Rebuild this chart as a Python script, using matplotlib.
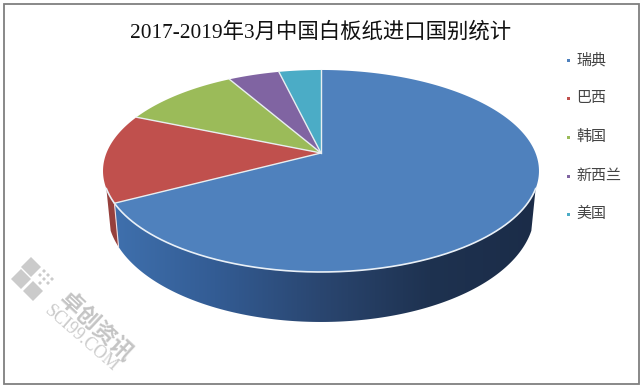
import numpy as np
import matplotlib
matplotlib.use("Agg")
import matplotlib.pyplot as plt
from matplotlib.patches import Polygon, Rectangle
from matplotlib.colors import to_rgb

plt.rcParams["font.family"] = ["Noto Sans CJK SC", "DejaVu Sans"]

title = "2017-2019年3月中国白板纸进口国别统计"
countries = ["瑞典", "巴西", "韩国", "新西兰", "美国"]
shares = [67.2, 14.2, 10.4, 4.5, 3.7]
colors = ["#4f81bd", "#c0504d", "#9bbb59", "#8064a2", "#4bacc6"]

# pie geometry in pixels, perspective squashes the far side
cx, cy = 321, 153
rx, ry = 214.5, 97.8
k = 0.178


def project(theta):
    # theta clockwise from the top of the pie
    u = np.sin(theta)
    v = np.cos(theta)
    w = 1 + k * v
    return cx + rx * u / w, cy - ry * v / w


def project_low(theta):
    # lower rim of the slab, a bit narrower than the top face
    x, y = project(theta)
    return cx + (x - cx) * 0.98, y + 38 - 12 * np.cos(theta)


fig = plt.figure(figsize=(6.43, 3.88), dpi=100)
ax = fig.add_axes([0, 0, 1, 1])

ax.add_patch(Rectangle((3.5, 3.5), 635, 380, fc="white", ec="#7f7f7f", lw=1.3))

edges = np.cumsum([0] + shares) / sum(shares) * 2 * np.pi
side_start = np.radians(110)
side_end = np.radians(250)

# side of the slab: gradient for the big slice, flat dark red for the other
t = np.linspace(side_start, edges[1], 200)
xa, ya = project(t)
xb, yb = project_low(t[::-1])
side = Polygon(np.c_[np.r_[xa, xb], np.r_[ya, yb]], closed=True, fc="none", ec="none")
ax.add_patch(side)

stops_x = [115, 215, 320, 430, 535]
stops_c = np.array([to_rgb(c) for c in ["#3f70ad", "#335c94", "#2a4670", "#1e3250", "#1b2c48"]])
grad_x = np.arange(100, 545)
grad = np.stack([np.interp(grad_x, stops_x, stops_c[:, i]) for i in range(3)], axis=-1)[None, :, :]
im = ax.imshow(grad, extent=[100, 545, 330, 170], aspect="auto", interpolation="bilinear", zorder=1.5)
im.set_clip_path(side)

t = np.linspace(edges[1], side_end, 40)
xa, ya = project(t)
xb, yb = project_low(t[::-1])
ax.fill(np.r_[xa, xb], np.r_[ya, yb], color="#96403c", lw=0, zorder=1.5)

# top face
for i, c in enumerate(colors):
    t = np.linspace(edges[i], edges[i + 1], 200)
    x, y = project(t)
    ax.fill(np.r_[cx, x, cx], np.r_[cy, y, cy], color=c, lw=0, zorder=2)

t = np.linspace(side_start, side_end, 300)
ax.plot(*project(t), color="#e9f0f7", lw=1.2, zorder=3)
x, y = project(edges[1])
ax.plot([x, project_low(edges[1])[0]], [y, project_low(edges[1])[1]], color="#f0dcdc", lw=0.8, zorder=3)
for e in edges[:-1]:
    x, y = project(e)
    ax.plot([cx, x], [cy, y], color="#e8eef0", lw=1.0, zorder=3)

ax.text(321, 32, title, ha="center", va="center", fontsize=15.4, color="#111111",
        family=["Liberation Serif", "Noto Sans CJK SC"])

legend_y = [60, 98, 137, 176, 214]
for name, c, y in zip(countries, colors, legend_y):
    ax.add_patch(Rectangle((566.5, y - 1.5), 3, 3, color=c, lw=0))
    ax.text(576, y, name, ha="left", va="center", fontsize=10.8, color="#444444")

# watermark
wm = "#cbcbcb"
for mx, my in [(31, 267), (21, 279), (33, 291)]:
    ax.fill([mx - 10, mx, mx + 10, mx], [my, my - 10, my, my + 10], color=wm, lw=0)
for mx, my in [(44, 271), (48, 275), (40, 275), (44, 279), (52, 279), (48, 283), (40, 283)]:
    ax.fill([mx - 2, mx, mx + 2, mx], [my, my - 2, my, my + 2], color=wm, lw=0)
ax.text(96, 327, "卓创资讯", rotation=-43, rotation_mode="anchor", ha="center", va="center",
        fontsize=16.5, color="#c4c4c4", fontweight="bold")
ax.text(81, 339, "SCI99.COM", rotation=-41, rotation_mode="anchor", ha="center", va="center",
        fontsize=13, color="#cbcbcb", family="Liberation Serif")

ax.set_xlim(0, 643)
ax.set_ylim(388, 0)
ax.axis("off")

fig.savefig("out.png", dpi=100)
